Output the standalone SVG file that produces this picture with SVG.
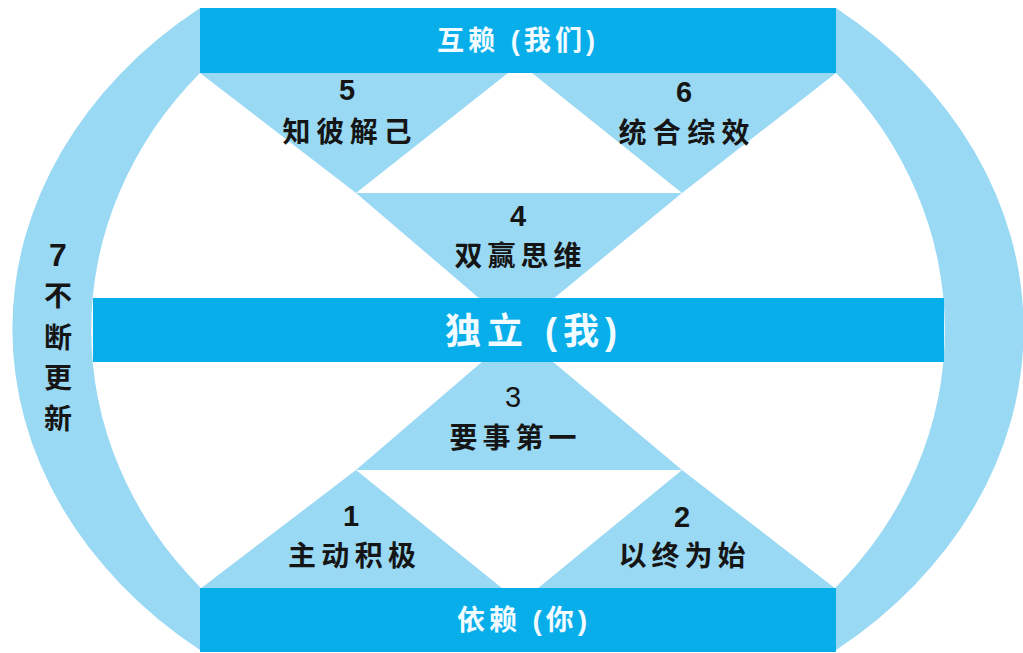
<svg xmlns="http://www.w3.org/2000/svg" width="1023" height="653" viewBox="0 0 1023 653">
<style>
.bar{fill:#07aeea}
.lt{fill:#99d9f4}
.wt{fill:#f2fbff;font-family:"Liberation Sans","Noto Sans CJK SC",sans-serif;font-weight:700;text-anchor:middle}
.bk{fill:#151515;font-family:"Liberation Sans","Noto Sans CJK SC",sans-serif;font-weight:700;text-anchor:middle}
.num{font-size:29px}
.cj{font-size:28px}
</style>
<rect width="1023" height="653" fill="#ffffff"/>
<g id="ring">
<path class="lt" d="M200,8 A506,413 0 0 0 200,650 L200,587 A426,385 0 0 1 200,73 Z"/>
<path class="lt" d="M836,8 A506,413 0 0 1 836,650 L836,587 A426,385 0 0 0 836,73 Z"/>
<text class="bk num" x="58" y="266" style="font-size:32px">7</text>
<text class="bk cj" x="58" y="306">不</text>
<text class="bk cj" x="58" y="348">断</text>
<text class="bk cj" x="58" y="388">更</text>
<text class="bk cj" x="58" y="429">新</text>
</g>
<g id="t5">
<polygon class="lt" points="200,73 508,73 356,193"/>
<text class="bk num" x="347" y="100">5</text>
<text class="bk cj" x="347" y="142" textLength="129" lengthAdjust="spacing">知彼解己</text>
</g>
<g id="t6">
<polygon class="lt" points="532,73 836,73 682,193"/>
<text class="bk num" x="684" y="102">6</text>
<text class="bk cj" x="684" y="143" textLength="131" lengthAdjust="spacing">统合综效</text>
</g>
<g id="t4">
<polygon class="lt" points="356,193 682,193 553,299 480,299"/>
<text class="bk num" x="518" y="226">4</text>
<text class="bk cj" x="518" y="266" textLength="127" lengthAdjust="spacing">双赢思维</text>
</g>
<g id="t3">
<polygon class="lt" points="483,361 552,361 682,470 356,470"/>
<text class="bk num" x="513" y="407" style="font-weight:400">3</text>
<text class="bk cj" x="513" y="448" textLength="127" lengthAdjust="spacing">要事第一</text>
</g>
<g id="t1">
<polygon class="lt" points="356,470 503,589 200,589"/>
<text class="bk num" x="351" y="526">1</text>
<text class="bk cj" x="352" y="566" textLength="128" lengthAdjust="spacing">主动积极</text>
</g>
<g id="t2">
<polygon class="lt" points="682,470 836,589 537,589"/>
<text class="bk num" x="682" y="527">2</text>
<text class="bk cj" x="682" y="566" textLength="127" lengthAdjust="spacing">以终为始</text>
</g>
<g id="top-bar">
<rect class="bar" x="200" y="8" width="636" height="65"/>
<text class="wt" x="516" y="50" style="font-size:27px" textLength="158" lengthAdjust="spacing">互赖 (我们)</text>
</g>
<g id="middle-bar">
<rect class="bar" x="93" y="298" width="851" height="64"/>
<text class="wt" x="531" y="344" style="font-size:36px" textLength="172" lengthAdjust="spacing">独立 (我)</text>
</g>
<g id="bottom-bar">
<rect class="bar" x="200" y="588" width="636" height="64"/>
<text class="wt" x="522" y="630" style="font-size:28px" textLength="130" lengthAdjust="spacing">依赖 (你)</text>
</g>
<g id="connectors"></g>
</svg>
